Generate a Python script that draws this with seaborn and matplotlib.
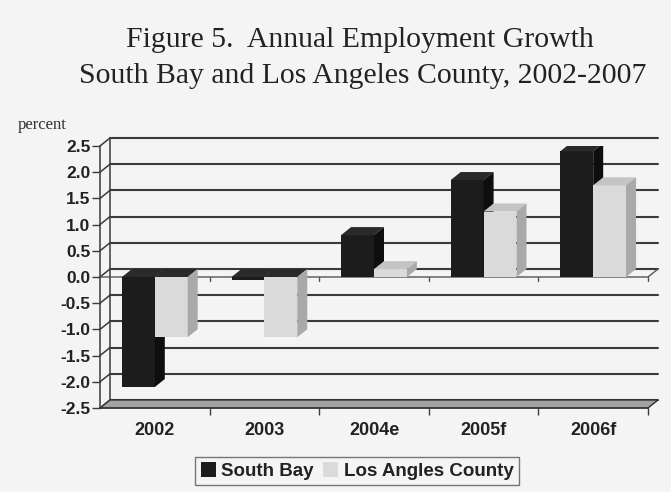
import matplotlib
matplotlib.use("Agg")
import matplotlib.pyplot as plt
import seaborn as sns
import pandas as pd
from matplotlib.patches import Polygon, Patch

years = ["2002", "2003", "2004e", "2005f", "2006f"]
south_bay = [-2.1, -0.05, 0.8, 1.85, 2.4]
la_county = [-1.15, -1.15, 0.15, 1.25, 1.75]
regions = ["South Bay", "Los Angles County"]
y_ticks = [-2.5, -2.0, -1.5, -1.0, -0.5, 0.0, 0.5, 1.0, 1.5, 2.0, 2.5]

# front, top, side shades for each series
shades = {
    "South Bay": ("#1c1c1c", "#2a2a2a", "#0e0e0e"),
    "Los Angles County": ("#dadada", "#c4c4c4", "#a9a9a9"),
}

df = pd.DataFrame({
    "Year": years * 2,
    "Region": [regions[0]] * len(years) + [regions[1]] * len(years),
    "Growth": south_bay + la_county,
})

sns.set_theme(style="white")
plt.rcParams["font.family"] = ["Liberation Sans", "DejaVu Sans"]
bg = "#f4f4f4"
fig = plt.figure(figsize=(6.71, 4.92), dpi=100, facecolor=bg)
ax = fig.add_axes([100 / 671, 84 / 492, 548 / 671, 262 / 492])
ax.set_facecolor(bg)

sns.barplot(data=df, x="Year", y="Growth", hue="Region", order=years, hue_order=regions,
            palette=[shades[r][0] for r in regions], width=0.6, gap=0, saturation=1,
            legend=False, ax=ax, linewidth=0)

ax.set_xlim(-0.5, len(years) - 0.5)
ax.set_ylim(-2.5, 2.5)

# depth offset of the fake 3D look, in pixels -> data units
inv = ax.transData.inverted()
p0 = inv.transform((0, 0))
p1 = inv.transform((10, 8))
dx, dy = p1[0] - p0[0], p1[1] - p0[1]
x_lo, x_hi = -0.5, len(years) - 0.5
grid_c = "#3a3a3a"

# back wall gridlines and left wall connectors
for y in y_ticks:
    ax.plot([x_lo + dx, x_hi + dx], [y + dy, y + dy], color=grid_c, lw=1.5, zorder=0.5, clip_on=False)
    ax.plot([x_lo, x_lo + dx], [y, y + dy], color=grid_c, lw=1.1, zorder=0.5, clip_on=False)
ax.plot([x_lo + dx, x_lo + dx], [-2.5 + dy, 2.5 + dy], color=grid_c, lw=1.1, zorder=0.5, clip_on=False)

# floor
ax.add_patch(Polygon([(x_lo, -2.5), (x_hi, -2.5), (x_hi + dx, -2.5 + dy), (x_lo + dx, -2.5 + dy)],
                     closed=True, facecolor="#a2a2a2", edgecolor="#333333", lw=1.0,
                     zorder=0.6, clip_on=False))

# zero plane edges
ax.plot([x_lo, x_hi, x_hi + dx], [0, 0, dy], color="#555555", lw=1.0, zorder=0.7, clip_on=False)
for b in range(len(years)):
    bx = b + 0.5
    ax.plot([bx, bx], [0, -0.07], color="#555555", lw=1.0, zorder=0.7, clip_on=False)

# top and side faces for every bar
for ci, container in enumerate(ax.containers):
    front, top, side = shades[regions[ci]]
    for bar in container:
        bar.set_zorder(2 + ci)
        x0 = bar.get_x()
        x1 = x0 + bar.get_width()
        ya = bar.get_y()
        yb = ya + bar.get_height()
        lo, hi = min(ya, yb), max(ya, yb)
        top_c = top if yb > 0 else shades["South Bay"][1]
        ax.add_patch(Polygon([(x0, hi), (x1, hi), (x1 + dx, hi + dy), (x0 + dx, hi + dy)],
                             closed=True, facecolor=top_c, edgecolor="none", zorder=2 + ci))
        ax.add_patch(Polygon([(x1, lo), (x1 + dx, lo + dy), (x1 + dx, hi + dy), (x1, hi)],
                             closed=True, facecolor=side, edgecolor="none", zorder=2 + ci))

for s in ["top", "right"]:
    ax.spines[s].set_visible(False)
ax.spines["left"].set_color(grid_c)
ax.spines["bottom"].set_color(grid_c)
ax.spines["left"].set_linewidth(1.1)
ax.spines["bottom"].set_linewidth(1.1)

ax.set_yticks(y_ticks)
ax.set_yticklabels([f"{t:.1f}" for t in y_ticks], fontsize=12.5, fontweight="bold", color="#222222")
ax.set_xticks(range(len(years)))
ax.set_xticklabels(years, fontsize=13, fontweight="bold", color="#222222")
ax.set_xticks([b + 0.5 for b in range(len(years))], minor=True)
ax.tick_params(axis="y", which="major", length=6, width=1, color=grid_c, pad=1, left=True)
ax.tick_params(axis="x", which="major", length=0, pad=10, bottom=True)
ax.tick_params(axis="x", which="minor", length=5, width=1, color=grid_c, bottom=True)
ax.set_xlabel("")
ax.set_ylabel("")

fig.text(18 / 671, 1 - 129 / 492, "percent", fontsize=12, family="Liberation Serif",
         color="#333333", va="baseline", ha="left")
fig.text(359.5 / 671, 1 - 47 / 492, "Figure 5.  Annual Employment Growth", fontsize=21.4,
         family="Liberation Serif", color="#222222", ha="center", va="baseline")
fig.text(362.5 / 671, 1 - 83 / 492, "South Bay and Los Angeles County, 2002-2007", fontsize=21.4,
         family="Liberation Serif", color="#222222", ha="center", va="baseline")

handles = [Patch(facecolor=shades[r][0], edgecolor="none") for r in regions]
leg = fig.legend(handles, regions, loc="center", bbox_to_anchor=(357 / 671, 1 - 471 / 492),
                 ncol=2, frameon=True, fancybox=False, handlelength=0.8, handleheight=0.8,
                 handletextpad=0.3, columnspacing=0.5, borderpad=0.3,
                 prop={"size": 13.5, "weight": "bold", "family": ["Liberation Sans", "DejaVu Sans"]})
leg.get_frame().set_edgecolor("#555555")
leg.get_frame().set_linewidth(1.0)
leg.get_frame().set_facecolor(bg)
for t in leg.get_texts():
    t.set_color("#222222")

fig.savefig("out.png", dpi=100, facecolor=bg)
